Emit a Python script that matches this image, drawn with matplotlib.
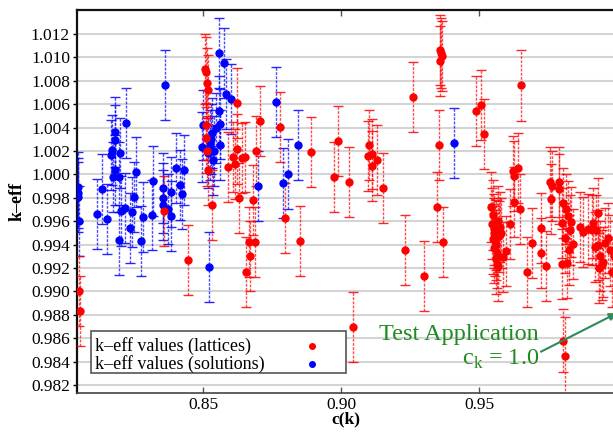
import matplotlib
matplotlib.use("Agg")
import matplotlib.pyplot as plt
from matplotlib.patches import Rectangle

# ---- data ----
red_x = [0.8052, 0.8054, 0.8359, 0.8447,
         0.8506, 0.8510, 0.8513, 0.8516, 0.8511, 0.8514, 0.8516, 0.8509, 0.8533,
         0.8622, 0.8708, 0.8779, 0.8624, 0.8608, 0.8616, 0.8640, 0.8652, 0.8691, 0.8592, 0.8630, 0.8682, 0.8798, 0.8666, 0.8689, 0.8671, 0.8655, 0.8851,
         0.8891, 0.8976, 0.8988, 0.9028, 0.9042, 0.9103, 0.9097, 0.9111, 0.9111, 0.9132, 0.9153, 0.9231, 0.9261, 0.9302, 0.9347, 0.9355, 0.9370, 0.9358, 0.9362, 0.9366, 0.9360, 0.9489, 0.9506, 0.9518,
         0.9545, 0.9550, 0.9548, 0.9553, 0.9556, 0.9560, 0.9552, 0.9558, 0.9563, 0.9555, 0.9565, 0.9560, 0.9568, 0.9570, 0.9572, 0.9578, 0.9586, 0.9575,
         0.9598, 0.9612, 0.9624, 0.9626, 0.9642, 0.9627, 0.9647, 0.9652, 0.9675, 0.9692, 0.9725, 0.9723, 0.9742, 0.9757, 0.9766, 0.9759,
         0.9789, 0.9791, 0.9803, 0.9800, 0.9812, 0.9824, 0.9830, 0.9833, 0.9841, 0.9802, 0.9815, 0.9827, 0.9819, 0.9806, 0.9812,
         0.9866, 0.9878, 0.9896, 0.9908, 0.9914, 0.9920, 0.9932, 0.9938, 0.9944, 0.9936, 0.9950, 0.9957, 0.9966, 0.9981, 0.9925, 0.9930, 0.9975, 0.9990]
red_y = [0.99006, 0.98832, 0.99690, 0.99266,
         1.00898, 1.00878, 1.00779, 1.00721, 1.00309, 1.00200, 1.00038, 1.00420, 0.99738,
         1.00613, 1.00454, 1.00402, 1.00214, 1.00146, 1.00089, 1.00138, 1.00146, 1.00203, 1.00066, 0.99801, 0.99781, 0.99625, 0.99425, 0.99420, 0.99305, 0.99168, 0.99432,
         1.00194, 0.99980, 1.00285, 0.99932, 0.98693, 1.00251, 1.00160, 1.00172, 1.00072, 1.00123, 0.99884, 0.99354, 1.00664, 0.99132, 0.99721, 1.00251, 0.99425, 1.01060, 1.01040, 1.01010, 1.00970, 1.00544, 1.00596, 1.00345,
         0.99720, 0.99650, 0.99580, 0.99530, 0.99500, 0.99480, 0.99450, 0.99430, 0.99400, 0.99370, 0.99330, 0.99280, 0.99220, 0.99600, 0.99470, 0.99497, 0.99297, 0.99550,
         0.99345, 0.99576, 1.00032, 0.99986, 1.00052, 0.99762, 0.99702, 1.00760, 0.99166, 0.99416, 0.99545, 0.99331, 0.99217, 0.99938, 0.99901, 0.99790,
         0.99873, 0.99932, 0.99753, 0.99582, 0.99454, 0.99644, 0.99525, 0.99596, 0.99403, 0.99232, 0.99702, 0.99354, 0.99240, 0.98580, 0.98448,
         0.99550, 0.99505, 0.99533, 0.99525, 0.99582, 0.99382, 0.99397, 0.99303, 0.99226, 0.99197, 0.99254, 0.99411, 0.99454, 0.99168, 0.99525, 0.99670, 0.99350, 0.99300]
red_err = [0.0030, 0.0030, 0.0030, 0.0030,
           0.0030, 0.0030, 0.0030, 0.0030, 0.0030, 0.0030, 0.0030, 0.0030, 0.0030,
           0.0030, 0.0030, 0.0030, 0.0030, 0.0030, 0.0030, 0.0030, 0.0030, 0.0030, 0.0030, 0.0030, 0.0030, 0.0030, 0.0030, 0.0030, 0.0030, 0.0030, 0.0030,
           0.0030, 0.0030, 0.0030, 0.0030, 0.0030, 0.0030, 0.0030, 0.0030, 0.0030, 0.0030, 0.0030, 0.0030, 0.0030, 0.0030, 0.0030, 0.0030, 0.0030, 0.0030, 0.0030, 0.0030, 0.0030, 0.0030, 0.0030, 0.0030,
           0.0030, 0.0030, 0.0030, 0.0030, 0.0030, 0.0030, 0.0030, 0.0030, 0.0030, 0.0030, 0.0030, 0.0030, 0.0030, 0.0030, 0.0030, 0.0030, 0.0030, 0.0030,
           0.0030, 0.0030, 0.0030, 0.0030, 0.0030, 0.0030, 0.0030, 0.0030, 0.0030, 0.0030, 0.0030, 0.0030, 0.0030, 0.0030, 0.0030, 0.0030,
           0.0030, 0.0030, 0.0030, 0.0030, 0.0030, 0.0030, 0.0030, 0.0030, 0.0030, 0.0030, 0.0030, 0.0030, 0.0030, 0.0027, 0.0033,
           0.0030, 0.0030, 0.0030, 0.0030, 0.0030, 0.0030, 0.0030, 0.0030, 0.0030, 0.0030, 0.0030, 0.0030, 0.0030, 0.0030, 0.0030, 0.0030, 0.0030, 0.0030]

blue_x = [0.8045, 0.8046, 0.8050, 0.8047,
          0.8362, 0.8220, 0.8179, 0.8181, 0.8169, 0.8167, 0.8199, 0.8182, 0.8174, 0.8197, 0.8257, 0.8133, 0.8115, 0.8151, 0.8202, 0.8217, 0.8249,
          0.8241, 0.8236, 0.8196, 0.8274, 0.8283, 0.8313, 0.8319, 0.8353, 0.8353, 0.8353, 0.8372, 0.8384, 0.8385, 0.8401, 0.8418, 0.8425, 0.8432,
          0.8500, 0.8496, 0.8557, 0.8575, 0.8583, 0.8601, 0.8559, 0.8546, 0.8562, 0.8525, 0.8562, 0.8532, 0.8537, 0.8519, 0.8528, 0.8540, 0.8522,
          0.8698, 0.8766, 0.8807, 0.8789, 0.8845, 0.9411]
blue_y = [0.99895, 0.99804, 0.99604, 0.99841,
          1.00764, 1.00437, 1.00365, 1.00294, 1.00209, 1.00166, 1.00185, 1.00038, 0.99980, 0.99975, 1.00023, 0.99875, 0.99662, 0.99616, 0.99690, 0.99710, 0.99804,
          0.99681, 0.99544, 0.99439, 0.99431, 0.99633, 0.99653, 0.99944, 0.99886, 0.99801, 0.99738, 0.99702, 0.99850, 0.99647, 1.00052, 0.99909, 0.99832, 1.00035,
          1.00422, 1.00237, 1.01035, 1.00950, 1.00687, 1.00644, 1.00542, 1.00399, 1.00428, 1.00251, 1.00251, 1.00351, 1.00123, 1.00180, 1.00300, 1.00200, 0.99206,
          0.99904, 1.00616, 1.00001, 0.99924, 1.00251, 1.00266]
blue_err = [0.0030, 0.0030, 0.0030, 0.0030,
            0.0030, 0.0030, 0.0030, 0.0030, 0.0030, 0.0030, 0.0030, 0.0030, 0.0030, 0.0030, 0.0030, 0.0030, 0.0030, 0.0030, 0.0030, 0.0030, 0.0030,
            0.0030, 0.0030, 0.0030, 0.0030, 0.0030, 0.0030, 0.0030, 0.0030, 0.0030, 0.0030, 0.0030, 0.0030, 0.0030, 0.0030, 0.0030, 0.0030, 0.0030,
            0.0030, 0.0030, 0.0030, 0.0030, 0.0030, 0.0030, 0.0030, 0.0030, 0.0030, 0.0030, 0.0030, 0.0030, 0.0030, 0.0030, 0.0030, 0.0030, 0.0030,
            0.0030, 0.0030, 0.0030, 0.0030, 0.0030, 0.0030]

series_labels = ["k\u2013eff values (lattices)", "k\u2013eff values (solutions)"]
y_ticks = [0.982, 0.984, 0.986, 0.988, 0.990, 0.992, 0.994, 0.996, 0.998,
           1.000, 1.002, 1.004, 1.006, 1.008, 1.010, 1.012]
x_ticks = [0.85, 0.90, 0.95]

# ---- style ----
plt.rcParams['font.family'] = ['Liberation Serif', 'DejaVu Serif']
plt.rcParams['mathtext.fontset'] = 'custom'
plt.rcParams['mathtext.rm'] = 'Liberation Serif'

W, H = 613, 432
fig = plt.figure(figsize=(W / 100, H / 100), dpi=100)
left, right, top, bottom = 77, 617, 10, 393
ax = fig.add_axes([left / W, 1 - bottom / H, (right - left) / W, (bottom - top) / H])

RED = '#ff0000'
BLUE = '#0000ff'


def draw(xs, ys, es, color):
    eb = ax.errorbar(xs, ys, yerr=es, fmt='o', color=color, ms=5.0, mec=color,
                     ecolor=color, elinewidth=1.0, capsize=3.5, capthick=1.0,
                     zorder=3)
    for lc in eb[2]:
        lc.set_linestyle((0, (2.0, 1.0)))
        lc.set_alpha(0.7)
    for cap in eb[1]:
        cap.set_alpha(0.85)
    return eb


draw(blue_x, blue_y, blue_err, BLUE)
draw(red_x, red_y, red_err, RED)

ax.set_xlim(0.8043, 1.0)
ax.set_ylim(0.98132, 1.01405)
ax.set_yticks(y_ticks)
ax.set_yticklabels([f"{v:.3f}" for v in y_ticks])
ax.set_xticks(x_ticks)
ax.set_xticklabels([f"{v:.2f}" for v in x_ticks])
ax.tick_params(axis='y', direction='out', length=3, width=1, labelsize=12.5, pad=2)
ax.tick_params(axis='x', direction='in', length=4, width=1, labelsize=12.5, pad=3,
               top=True, color='#555555')
ax.yaxis.grid(True, color='#d4d4d4', linewidth=1.5)
ax.set_axisbelow(True)
for s in ('top', 'left'):
    ax.spines[s].set_linewidth(1.6)
    ax.spines[s].set_color('#111111')
ax.spines['bottom'].set_linewidth(1.2)
ax.spines['bottom'].set_color('#444444')
ax.spines['right'].set_visible(False)

ax.set_ylabel("k\u2013eff", fontsize=13, fontweight='bold', labelpad=4)
ax.set_xlabel("c(k)", fontsize=12.5, fontweight='bold')
ax.xaxis.set_label_coords(0.497, -0.048)

# ---- legend (box, labels on the left, markers on the right) ----
def axpx(px, py):
    return (px - left) / (right - left), (bottom - py) / (bottom - top)

bx0, by1 = axpx(90.7, 331)
bx1, by0 = axpx(345.7, 373.3)
ax.add_patch(Rectangle((bx0, by0), bx1 - bx0, by1 - by0, transform=ax.transAxes,
                       facecolor='white', edgecolor='#555555', linewidth=1.2,
                       zorder=6))
for label, color, py in zip(series_labels, [RED, BLUE], [345.7, 364.3]):
    tx, ty = axpx(95, py)
    ax.text(tx, ty, label, transform=ax.transAxes, ha='left', va='center',
            fontsize=13, zorder=7)
    mx, my = axpx(312, py)
    ax.plot([mx], [my], 'o', ms=4, color=color, transform=ax.transAxes,
            zorder=7, clip_on=False)

GREEN = '#1f8a1f'
ax.text(0.9718, 0.98520, "Test Application\nc$_{\\mathrm{k}}$ = 1.0", ha='right',
        va='center', multialignment='right', fontsize=17.5, color=GREEN,
        linespacing=1.2, zorder=5)
ax.annotate('', xy=(1.0, 0.98815), xytext=(0.97245, 0.98485),
            arrowprops=dict(arrowstyle='-|>', color='#2e8b57', lw=1.5,
                            mutation_scale=11, shrinkA=0, shrinkB=0),
            annotation_clip=False, zorder=5)

fig.savefig("out.png", dpi=100)
